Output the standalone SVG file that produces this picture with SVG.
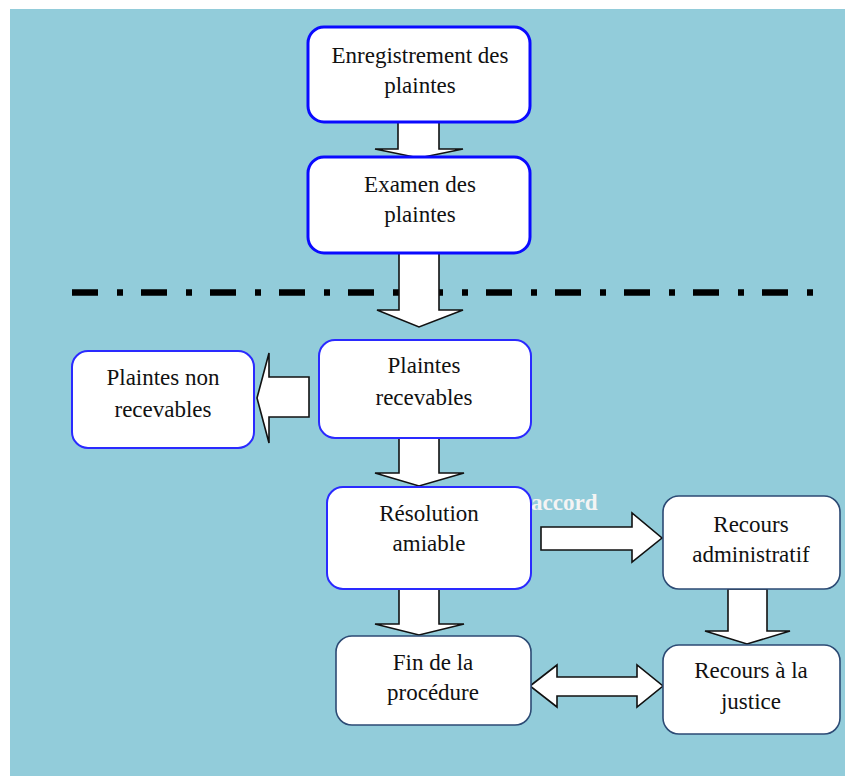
<svg xmlns="http://www.w3.org/2000/svg" width="845" height="776" viewBox="0 0 845 776">
<style>
.bg{fill:#92CCDA}
.box{fill:#fff}
.b1{stroke:#0a0aff;stroke-width:3}
.b2{stroke:#2a2aff;stroke-width:2}
.b3{stroke:#2c4a74;stroke-width:1.6}
.arr{fill:#fff;stroke:#111;stroke-width:1.6;stroke-linejoin:miter}
.t{font-family:"Liberation Serif","Times New Roman",serif;font-size:23px;fill:#111;text-anchor:middle}
.acc{font-family:"Liberation Serif","Times New Roman",serif;font-size:23px;font-weight:bold;fill:#f4f4f4}
.sep{stroke:#000;stroke-width:6.5;stroke-dasharray:26 19 6 18;fill:none}
</style>
<rect class="bg" x="10" y="9" width="835" height="767"/>
<line class="sep" x1="72" y1="292.5" x2="813" y2="292.5"/>
<text class="acc" x="531" y="510">accord</text>
<g id="connectors">
<path class="arr" d="M398,122 L439,122 L439,149 L463,149 L419,158 L375,149 L398,149 Z"/>
<path class="arr" d="M399,253 L439,253 L439,310 L463,310 L419,327 L377,310 L399,310 Z"/>
<path class="arr" d="M309,377 L269,377 L269,353 L257,398 L269,443 L269,417 L309,417 Z"/>
<path class="arr" d="M399,438 L439,438 L439,473 L464,473 L419,486 L375,473 L399,473 Z"/>
<path class="arr" d="M399,589 L439,589 L439,624 L464,624 L419,635 L375,624 L399,624 Z"/>
<path class="arr" d="M541,527 L632,527 L632,513 L662,538 L632,562 L632,550 L541,550 Z"/>
<path class="arr" d="M728,589 L767,589 L767,631 L790,631 L747,644 L705,631 L728,631 Z"/>
<path class="arr" d="M530,686 L557,665 L557,677 L637,677 L637,665 L663,686 L637,707 L637,696 L557,696 L557,707 Z"/>
</g>
<g id="n1">
<rect class="box b1" x="308" y="27" width="222" height="95" rx="16"/>
<text class="t" x="420" y="63">Enregistrement des</text>
<text class="t" x="420" y="93">plaintes</text>
</g>
<g id="n2">
<rect class="box b1" x="308" y="157" width="222" height="96" rx="16"/>
<text class="t" x="420" y="192">Examen des</text>
<text class="t" x="420" y="222">plaintes</text>
</g>
<g id="n3">
<rect class="box b2" x="319" y="340" width="212" height="98" rx="16"/>
<text class="t" x="424" y="373">Plaintes</text>
<text class="t" x="424" y="405">recevables</text>
</g>
<g id="n4">
<rect class="box b2" x="72" y="351" width="182" height="97" rx="16"/>
<text class="t" x="163" y="385">Plaintes non</text>
<text class="t" x="163" y="417">recevables</text>
</g>
<g id="n5">
<rect class="box b2" x="327" y="487" width="204" height="102" rx="16"/>
<text class="t" x="429" y="521">Résolution</text>
<text class="t" x="429" y="551">amiable</text>
</g>
<g id="n6">
<rect class="box b3" x="663" y="496" width="177" height="93" rx="16"/>
<text class="t" x="751" y="532">Recours</text>
<text class="t" x="751" y="562">administratif</text>
</g>
<g id="n7">
<rect class="box b3" x="336" y="636" width="195" height="89" rx="16"/>
<text class="t" x="433" y="670">Fin de la</text>
<text class="t" x="433" y="700">procédure</text>
</g>
<g id="n8">
<rect class="box b3" x="663" y="645" width="177" height="89" rx="16"/>
<text class="t" x="751" y="678">Recours à la</text>
<text class="t" x="751" y="709">justice</text>
</g>
</svg>
